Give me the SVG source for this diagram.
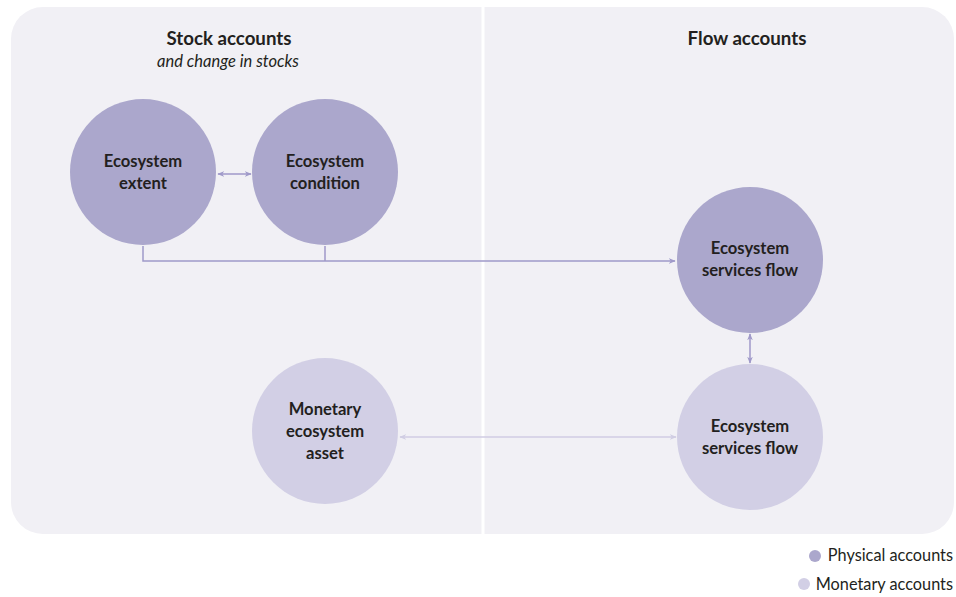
<svg xmlns="http://www.w3.org/2000/svg" width="956" height="597" viewBox="0 0 956 597">
<defs>
<style>
.title{font-family:Lato,"Open Sans",sans-serif;font-weight:bold;font-size:18.7px;fill:#231f20;text-anchor:middle}
.sub{font-family:Lato,"Open Sans",sans-serif;font-style:italic;font-size:16.5px;fill:#231f20;text-anchor:middle}
.lbl{font-family:Lato,"Open Sans",sans-serif;font-weight:bold;font-size:16.6px;fill:#231f20;text-anchor:middle}
.leg{font-family:Lato,"Open Sans",sans-serif;font-size:16.3px;fill:#231f20;text-anchor:end}
.phys{fill:#aba7cc}
.mon{fill:#d2cfe5}
.cp{fill:none;stroke:#9f99c9;stroke-width:1.5}
.cm{fill:none;stroke:#d0cde3;stroke-width:1.5}
</style>
<marker id="ap" viewBox="0 0 10 10" refX="9" refY="5" markerWidth="7" markerHeight="7" orient="auto-start-reverse" markerUnits="userSpaceOnUse"><path d="M0,1 L10,5 L0,9 L3,5 Z" fill="#9f99c9"/></marker>
<marker id="am" viewBox="0 0 10 10" refX="9" refY="5" markerWidth="7" markerHeight="7" orient="auto-start-reverse" markerUnits="userSpaceOnUse"><path d="M0,1 L10,5 L0,9 L3,5 Z" fill="#d0cde3"/></marker>
</defs>
<rect x="11" y="7" width="943" height="527" rx="32" fill="#f1f0f5"/>
<rect x="481.5" y="7" width="3" height="527" fill="#ffffff"/>
<text class="title" x="229" y="45">Stock accounts</text>
<text class="sub" x="228" y="67">and change in stocks</text>
<text class="title" x="747" y="45">Flow accounts</text>
<g id="connectors">
<path class="cp" d="M143,246 V261 H675" marker-end="url(#ap)"/>
<path class="cp" d="M325,246 V261"/>
<path class="cp" d="M218,174 H251" marker-start="url(#ap)" marker-end="url(#ap)"/>
<path class="cp" d="M750,334 V363" marker-start="url(#ap)" marker-end="url(#ap)"/>
<path class="cm" d="M400,437 H676" marker-start="url(#am)" marker-end="url(#am)"/>
</g>
<g id="extent"><circle class="phys" cx="143" cy="172" r="73"/><text class="lbl" x="143" y="167">Ecosystem</text><text class="lbl" x="143" y="189">extent</text></g>
<g id="condition"><circle class="phys" cx="325" cy="172" r="73"/><text class="lbl" x="325" y="167">Ecosystem</text><text class="lbl" x="325" y="189">condition</text></g>
<g id="services-physical"><circle class="phys" cx="750" cy="260" r="73"/><text class="lbl" x="750" y="254">Ecosystem</text><text class="lbl" x="750" y="276">services flow</text></g>
<g id="services-monetary"><circle class="mon" cx="750" cy="437" r="73"/><text class="lbl" x="750" y="432">Ecosystem</text><text class="lbl" x="750" y="454">services flow</text></g>
<g id="monetary-asset"><circle class="mon" cx="325" cy="431" r="73"/><text class="lbl" x="325" y="415">Monetary</text><text class="lbl" x="325" y="437">ecosystem</text><text class="lbl" x="325" y="459">asset</text></g>
<g id="legend">
<circle class="phys" cx="815" cy="556" r="6"/><text class="leg" x="953" y="561">Physical accounts</text>
<circle class="mon" cx="804" cy="584" r="6"/><text class="leg" x="953" y="590">Monetary accounts</text>
</g>
</svg>
